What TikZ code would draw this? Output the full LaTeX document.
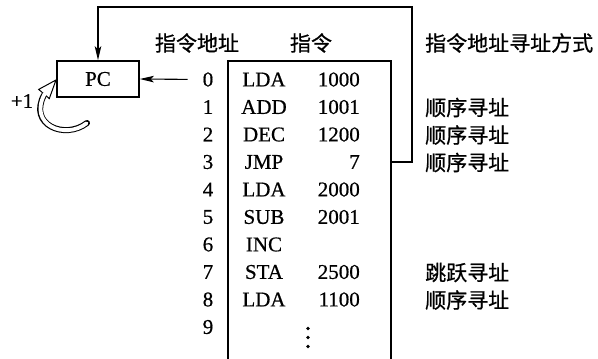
\documentclass[tikz,border=0pt]{standalone}
\usepackage{fontspec}
\setmainfont{Liberation Serif}[FakeBold=0.6]
\newfontfamily\cjk{Noto Sans CJK SC}[FakeBold=0.8]
\usetikzlibrary{arrows.meta}
\begin{document}
\begin{tikzpicture}[x=1pt,y=-1pt,
  txt/.style={inner sep=0pt, font=\fontsize{21}{24}\selectfont},
  cn/.style={inner sep=0pt, font=\cjk\fontsize{21}{24}\selectfont},
  tbl/.style={line width=1.9pt},
  conn/.style={line width=1.1pt, -{Stealth[length=14pt,width=6.5pt,inset=3pt]}},
  pcbox/.style={draw, line width=1.6pt, minimum width=82pt, minimum height=36pt}]
\useasboundingbox (0,0) rectangle (598,359);

% PC register
\node[txt, pcbox] (pc) at (98,79) {PC};

% headers
\node[cn] (hAddr) at (197,43) {指令地址};
\node[cn] (hInstr) at (311,43) {指令};
\node[cn, anchor=west] (hMode) at (425,43) {指令地址寻址方式};

% table frame (open at the bottom)
\coordinate (tbl) at (228,359);
\coordinate (tbr) at (391,359);
\draw[tbl] (tbl) -- (228,61) -- (391,61) -- (tbr);

% addresses
\foreach \i in {0,...,9}
  \node[txt] (a\i) at (208,{79.5+27.5*\i}) {\i};

% mnemonics
\foreach \i/\m in {0/LDA,1/ADD,2/DEC,3/JMP,4/LDA,5/SUB,6/INC,7/STA,8/LDA}
  \node[txt] (m\i) at (264,{79.5+27.5*\i}) {\m};

% operands
\foreach \i/\o in {0/1000,1/1001,2/1200,3/7,4/2000,5/2001,7/2500,8/1100}
  \node[txt, anchor=east] (o\i) at (360,{79.5+27.5*\i}) {\o};

% vertical dots
\foreach \yy in {328.5,337.5,346.5}
  \fill (308,\yy) circle (1.9pt);

% addressing modes
\node[cn, anchor=west] (r1) at (425,{80+27.5*1}) {顺序寻址};
\node[cn, anchor=west] (r2) at (425,{80+27.5*2}) {顺序寻址};
\node[cn, anchor=west] (r3) at (425,{80+27.5*3}) {顺序寻址};
\node[cn, anchor=west] (r7) at (425,{80+27.5*7}) {跳跃寻址};
\node[cn, anchor=west] (r8) at (425,{80+27.5*8}) {顺序寻址};

% address 0 -> PC
\draw[conn, shorten <=15pt] (a0.west) -- (pc.east);

% jump feedback JMP 7 -> PC
\coordinate (jmpR) at (391,162);
\coordinate (fbR) at (412,162);
\coordinate (fbTR) at (412,7);
\coordinate (fbTL) at (98,7);
\draw[conn] (jmpR) -- (fbR) -- (fbTR) -- (fbTL) -- (pc.north);

% +1 hollow curved arrow
\node[txt] (plus) at (22,101) {+1};
\draw[line width=6pt, line cap=round] (87,123) .. controls (65,140) and (28,125) .. (44,95);
\draw[line width=1pt, fill=white, line join=miter] (56,80) -- (49.3,98.6) -- (38.7,89.4) -- cycle;
\draw[white, line width=3.8pt, line cap=round] (86.6,123.3) .. controls (65,140) and (28,125) .. (44.6,94);
\end{tikzpicture}
\end{document}
